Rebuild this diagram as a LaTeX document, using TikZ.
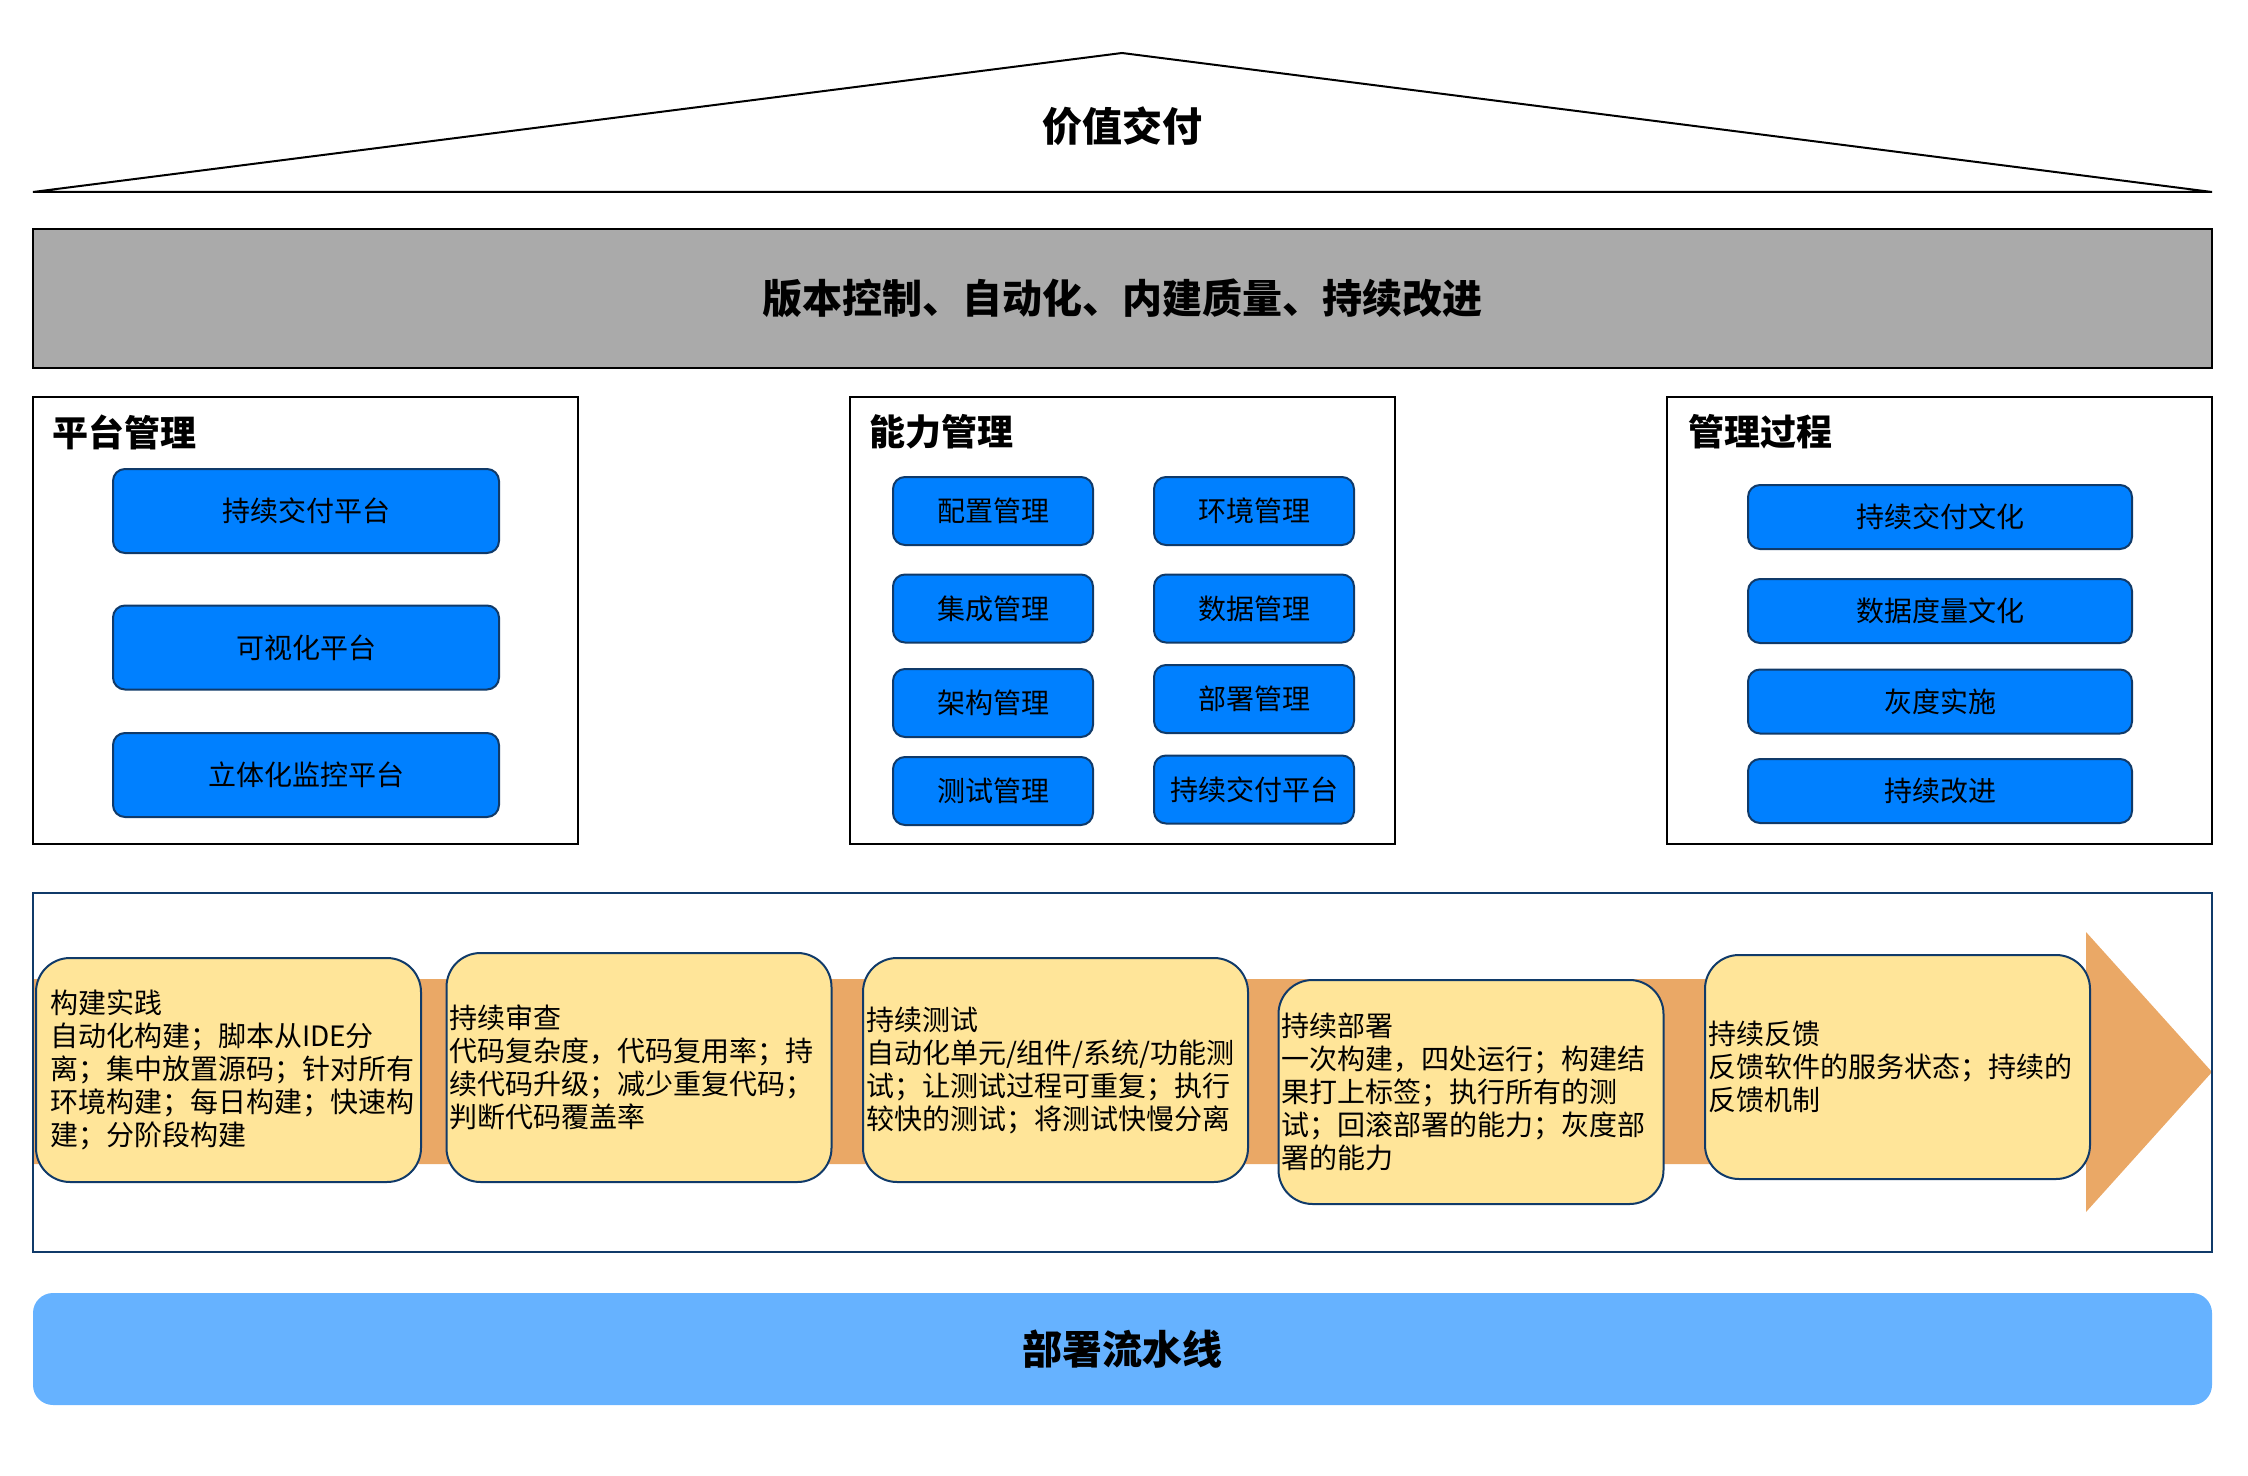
\documentclass[tikz,border=0pt]{standalone}
\usepackage{fontspec}
\setmainfont{Noto Sans CJK SC}
\usepackage{tikz}
\usetikzlibrary{positioning, calc}
\definecolor{cGrey}{RGB}{170,170,170}
\definecolor{cBtn}{RGB}{0,128,255}
\definecolor{cNavy}{RGB}{16,58,105}
\definecolor{cCard}{RGB}{255,229,153}
\definecolor{cBand}{RGB}{234,168,102}
\definecolor{cPipe}{RGB}{102,178,255}
\tikzset{
	bigtitle/.style ={inner sep=0pt, font=\fontsize{20}{24}\selectfont\bfseries},
	core/.style     ={rectangle, draw=black, line width=1.2pt, fill=cGrey, minimum width=1089.5pt, minimum height=69.5pt, font=\fontsize{20}{24}\selectfont\bfseries},
	panel/.style    ={rectangle, draw=black, line width=1pt, minimum width=272.5pt, minimum height=223.5pt, inner sep=0pt},
	ptitle/.style   ={anchor=west, inner sep=0pt, font=\fontsize{18}{22}\selectfont\bfseries},
	btn/.style      ={rectangle, rounded corners=6pt, draw=cNavy, line width=1pt, fill=cBtn, inner sep=0pt, font=\fontsize{14}{17}\selectfont},
	wbtn/.style     ={btn, minimum width=193pt, minimum height=42pt},
	sbtn/.style     ={btn, minimum width=100pt, minimum height=34pt},
	rbtn/.style     ={btn, minimum width=192pt, minimum height=32pt},
	card/.style     ={rectangle, rounded corners=17pt, draw=cNavy, line width=1pt, fill=cCard, minimum height=112pt, inner xsep=1.5pt, inner ysep=0pt, text width=189.5pt, align=left, font=\fontsize{14}{16.5}\selectfont},
	pipe/.style     ={rectangle, rounded corners=10pt, fill=cPipe, minimum width=1089.5pt, minimum height=56pt, font=\fontsize{20}{24}\selectfont\bfseries},
}
\begin{document}
\begin{tikzpicture}[x=0.5pt, y=-0.5pt]
	\useasboundingbox (0,0) rectangle (2248,1476);
	% roof
	\draw[line width=1pt] (33,192) -- (1122,53) -- (2212,192) -- cycle;
	\node[bigtitle] (value) at (1122,126) {价值交付};
	\node[core] (core) at (1122.5,298.5) {版本控制、自动化、内建质量、持续改进};
	% three pillars
	\node[panel] (pPlat) at (305.5,620.5) {};
	\node[panel] (pCap) at (1122.5,620.5) {};
	\node[panel] (pProc) at (1939.5,620.5) {};
	\node[ptitle] (tPlat) at ([xshift=10pt,yshift=-18pt]pPlat.north west) {平台管理};
	\node[ptitle] (tCap) at ([xshift=10pt,yshift=-18pt]pCap.north west) {能力管理};
	\node[ptitle] (tProc) at ([xshift=11pt,yshift=-18pt]pProc.north west) {管理过程};
	\node[wbtn] (plat1) at (306,511) {持续交付平台};
	\node[wbtn] (plat2) at (306,647.5) {可视化平台};
	\node[wbtn] (plat3) at (306,775) {立体化监控平台};
	\node[sbtn] (cfg) at (993,511) {配置管理};
	\node[sbtn] (env) at (1254,511) {环境管理};
	\node[sbtn] (intg) at (993,608.5) {集成管理};
	\node[sbtn] (data) at (1254,608.5) {数据管理};
	\node[sbtn] (arch) at (993,703) {架构管理};
	\node[sbtn] (depl) at (1254,699) {部署管理};
	\node[sbtn] (test) at (993,791) {测试管理};
	\node[sbtn] (cdp) at (1254,789.5) {持续交付平台};
	\node[rbtn] (cult) at (1940,517) {持续交付文化};
	\node[rbtn] (metr) at (1940,611) {数据度量文化};
	\node[rbtn] (gray) at (1940,701.5) {灰度实施};
	\node[rbtn] (impr) at (1940,791) {持续改进};
	% practice flow
	\fill[cBand] (33,979) -- (2086,979) -- (2086,932) -- (2212,1072) -- (2086,1212) -- (2086,1164) -- (33,1164) -- cycle;
	\node[draw=cNavy, line width=1pt, inner sep=0pt, minimum width=1089.5pt, minimum height=179.5pt] (flow) at (1122.5,1072.5) {};
	\node[card, inner xsep=7pt, text width=178.5pt] (cBuild) at (228.5,1070) {构建实践\\自动化构建；脚本从IDE分\\离；集中放置源码；针对所有\\环境构建；每日构建；快速构\\建；分阶段构建};
	\node[card, minimum height=114.5pt] (cReview) at (639,1067.5) {持续审查\\代码复杂度，代码复用率；持\\续代码升级；减少重复代码；\\判断代码覆盖率};
	\node[card] (cTest) at (1055.5,1070) {持续测试\\自动化单元/组件/系统/功能测\\试；让测试过程可重复；执行\\较快的测试；将测试快慢分离};
	\node[card] (cDeploy) at (1471,1092) {持续部署\\一次构建，四处运行；构建结\\果打上标签；执行所有的测\\试；回滚部署的能力；灰度部\\署的能力};
	\node[card] (cFeed) at (1897.5,1067) {持续反馈\\反馈软件的服务状态；持续的\\反馈机制};
	\node[pipe] (pipe) at (1122.5,1349) {部署流水线};
\end{tikzpicture}
\end{document}
